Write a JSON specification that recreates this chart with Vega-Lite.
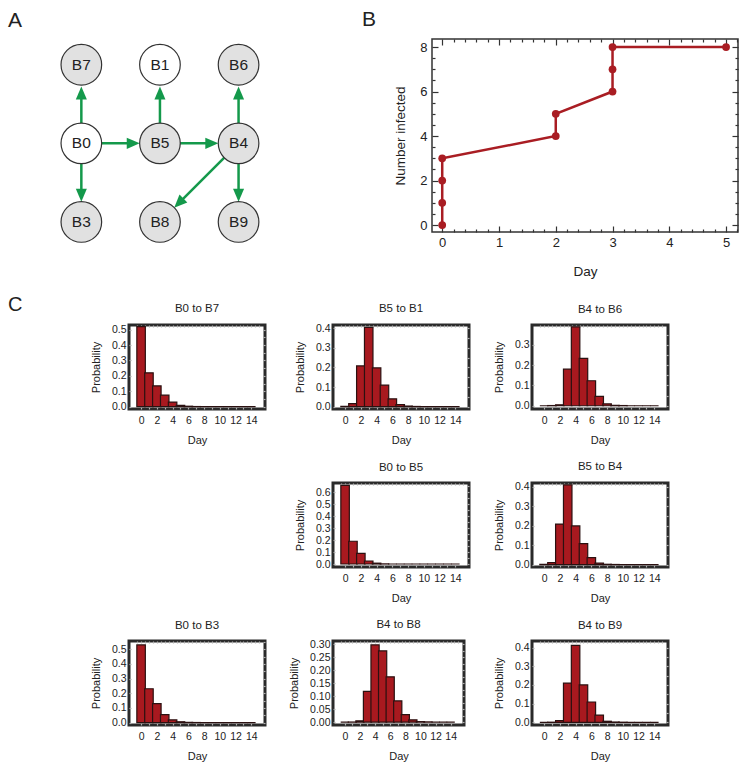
{
  "$schema": "https://vega.github.io/schema/vega-lite/v6.json",
  "padding": {"left": 8, "top": 8, "right": 5, "bottom": 3},
  "background": "white",
  "spacing": 16,
  "datasets": {
    "nodes": [
      {"id": "B7", "col": 0, "row": 0, "state": "infected"},
      {"id": "B1", "col": 1, "row": 0, "state": "uninfected"},
      {"id": "B6", "col": 2, "row": 0, "state": "infected"},
      {"id": "B0", "col": 0, "row": 1, "state": "uninfected"},
      {"id": "B5", "col": 1, "row": 1, "state": "infected"},
      {"id": "B4", "col": 2, "row": 1, "state": "infected"},
      {"id": "B3", "col": 0, "row": 2, "state": "infected"},
      {"id": "B8", "col": 1, "row": 2, "state": "infected"},
      {"id": "B9", "col": 2, "row": 2, "state": "infected"}
    ],
    "edges": [
      {"from": "B0", "to": "B7", "x1": 0, "y1": 1, "hx": 0, "hy": 0.36, "heading": 0},
      {"from": "B5", "to": "B1", "x1": 1, "y1": 1, "hx": 1, "hy": 0.36, "heading": 0},
      {"from": "B4", "to": "B6", "x1": 2, "y1": 1, "hx": 2, "hy": 0.36, "heading": 0},
      {"from": "B0", "to": "B3", "x1": 0, "y1": 1, "hx": 0, "hy": 1.66, "heading": 180},
      {"from": "B4", "to": "B9", "x1": 2, "y1": 1, "hx": 2, "hy": 1.66, "heading": 180},
      {"from": "B0", "to": "B5", "x1": 0, "y1": 1, "hx": 0.66, "hy": 1, "heading": 90},
      {"from": "B5", "to": "B4", "x1": 1, "y1": 1, "hx": 1.66, "hy": 1, "heading": 90},
      {"from": "B4", "to": "B8", "x1": 2, "y1": 1, "hx": 1.24, "hy": 1.76, "heading": 225}
    ],
    "infected": [
      {"day": 0, "infected": 0}, {"day": 0, "infected": 1}, {"day": 0, "infected": 2}, {"day": 0, "infected": 3},
      {"day": 2, "infected": 4}, {"day": 2, "infected": 5}, {"day": 3, "infected": 6}, {"day": 3, "infected": 7},
      {"day": 3, "infected": 8}, {"day": 5, "infected": 8}
    ],
    "hist": [
      {"pair": "B0 to B7", "day": 0, "p": 0.52}, {"pair": "B0 to B7", "day": 1, "p": 0.22}, {"pair": "B0 to B7", "day": 2, "p": 0.135}, {"pair": "B0 to B7", "day": 3, "p": 0.075}, {"pair": "B0 to B7", "day": 4, "p": 0.03}, {"pair": "B0 to B7", "day": 5, "p": 0.008}, {"pair": "B0 to B7", "day": 6, "p": 0.003}, {"pair": "B0 to B7", "day": 7, "p": 0.001}, {"pair": "B0 to B7", "day": 8, "p": 0}, {"pair": "B0 to B7", "day": 9, "p": 0}, {"pair": "B0 to B7", "day": 10, "p": 0}, {"pair": "B0 to B7", "day": 11, "p": 0}, {"pair": "B0 to B7", "day": 12, "p": 0}, {"pair": "B0 to B7", "day": 13, "p": 0}, {"pair": "B0 to B7", "day": 14, "p": 0},
      {"pair": "B5 to B1", "day": 0, "p": 0.001}, {"pair": "B5 to B1", "day": 1, "p": 0.015}, {"pair": "B5 to B1", "day": 2, "p": 0.208}, {"pair": "B5 to B1", "day": 3, "p": 0.405}, {"pair": "B5 to B1", "day": 4, "p": 0.198}, {"pair": "B5 to B1", "day": 5, "p": 0.11}, {"pair": "B5 to B1", "day": 6, "p": 0.04}, {"pair": "B5 to B1", "day": 7, "p": 0.01}, {"pair": "B5 to B1", "day": 8, "p": 0.003}, {"pair": "B5 to B1", "day": 9, "p": 0.001}, {"pair": "B5 to B1", "day": 10, "p": 0}, {"pair": "B5 to B1", "day": 11, "p": 0}, {"pair": "B5 to B1", "day": 12, "p": 0}, {"pair": "B5 to B1", "day": 13, "p": 0}, {"pair": "B5 to B1", "day": 14, "p": 0},
      {"pair": "B4 to B6", "day": 0, "p": 0}, {"pair": "B4 to B6", "day": 1, "p": 0.001}, {"pair": "B4 to B6", "day": 2, "p": 0.005}, {"pair": "B4 to B6", "day": 3, "p": 0.18}, {"pair": "B4 to B6", "day": 4, "p": 0.388}, {"pair": "B4 to B6", "day": 5, "p": 0.233}, {"pair": "B4 to B6", "day": 6, "p": 0.123}, {"pair": "B4 to B6", "day": 7, "p": 0.046}, {"pair": "B4 to B6", "day": 8, "p": 0.009}, {"pair": "B4 to B6", "day": 9, "p": 0.002}, {"pair": "B4 to B6", "day": 10, "p": 0.001}, {"pair": "B4 to B6", "day": 11, "p": 0}, {"pair": "B4 to B6", "day": 12, "p": 0}, {"pair": "B4 to B6", "day": 13, "p": 0}, {"pair": "B4 to B6", "day": 14, "p": 0},
      {"pair": "B0 to B5", "day": 0, "p": 0.656}, {"pair": "B0 to B5", "day": 1, "p": 0.19}, {"pair": "B0 to B5", "day": 2, "p": 0.089}, {"pair": "B0 to B5", "day": 3, "p": 0.025}, {"pair": "B0 to B5", "day": 4, "p": 0.007}, {"pair": "B0 to B5", "day": 5, "p": 0.001}, {"pair": "B0 to B5", "day": 6, "p": 0}, {"pair": "B0 to B5", "day": 7, "p": 0}, {"pair": "B0 to B5", "day": 8, "p": 0}, {"pair": "B0 to B5", "day": 9, "p": 0}, {"pair": "B0 to B5", "day": 10, "p": 0}, {"pair": "B0 to B5", "day": 11, "p": 0}, {"pair": "B0 to B5", "day": 12, "p": 0}, {"pair": "B0 to B5", "day": 13, "p": 0}, {"pair": "B0 to B5", "day": 14, "p": 0},
      {"pair": "B5 to B4", "day": 0, "p": 0.001}, {"pair": "B5 to B4", "day": 1, "p": 0.01}, {"pair": "B5 to B4", "day": 2, "p": 0.209}, {"pair": "B5 to B4", "day": 3, "p": 0.41}, {"pair": "B5 to B4", "day": 4, "p": 0.199}, {"pair": "B5 to B4", "day": 5, "p": 0.108}, {"pair": "B5 to B4", "day": 6, "p": 0.036}, {"pair": "B5 to B4", "day": 7, "p": 0.008}, {"pair": "B5 to B4", "day": 8, "p": 0.002}, {"pair": "B5 to B4", "day": 9, "p": 0.001}, {"pair": "B5 to B4", "day": 10, "p": 0}, {"pair": "B5 to B4", "day": 11, "p": 0}, {"pair": "B5 to B4", "day": 12, "p": 0}, {"pair": "B5 to B4", "day": 13, "p": 0}, {"pair": "B5 to B4", "day": 14, "p": 0},
      {"pair": "B0 to B3", "day": 0, "p": 0.529}, {"pair": "B0 to B3", "day": 1, "p": 0.231}, {"pair": "B0 to B3", "day": 2, "p": 0.13}, {"pair": "B0 to B3", "day": 3, "p": 0.054}, {"pair": "B0 to B3", "day": 4, "p": 0.019}, {"pair": "B0 to B3", "day": 5, "p": 0.006}, {"pair": "B0 to B3", "day": 6, "p": 0.002}, {"pair": "B0 to B3", "day": 7, "p": 0.001}, {"pair": "B0 to B3", "day": 8, "p": 0}, {"pair": "B0 to B3", "day": 9, "p": 0}, {"pair": "B0 to B3", "day": 10, "p": 0}, {"pair": "B0 to B3", "day": 11, "p": 0}, {"pair": "B0 to B3", "day": 12, "p": 0}, {"pair": "B0 to B3", "day": 13, "p": 0}, {"pair": "B0 to B3", "day": 14, "p": 0},
      {"pair": "B4 to B8", "day": 0, "p": 0}, {"pair": "B4 to B8", "day": 1, "p": 0.0005}, {"pair": "B4 to B8", "day": 2, "p": 0.005}, {"pair": "B4 to B8", "day": 3, "p": 0.119}, {"pair": "B4 to B8", "day": 4, "p": 0.298}, {"pair": "B4 to B8", "day": 5, "p": 0.275}, {"pair": "B4 to B8", "day": 6, "p": 0.175}, {"pair": "B4 to B8", "day": 7, "p": 0.082}, {"pair": "B4 to B8", "day": 8, "p": 0.029}, {"pair": "B4 to B8", "day": 9, "p": 0.009}, {"pair": "B4 to B8", "day": 10, "p": 0.002}, {"pair": "B4 to B8", "day": 11, "p": 0.001}, {"pair": "B4 to B8", "day": 12, "p": 0}, {"pair": "B4 to B8", "day": 13, "p": 0}, {"pair": "B4 to B8", "day": 14, "p": 0},
      {"pair": "B4 to B9", "day": 0, "p": 0}, {"pair": "B4 to B9", "day": 1, "p": 0.001}, {"pair": "B4 to B9", "day": 2, "p": 0.009}, {"pair": "B4 to B9", "day": 3, "p": 0.21}, {"pair": "B4 to B9", "day": 4, "p": 0.412}, {"pair": "B4 to B9", "day": 5, "p": 0.2}, {"pair": "B4 to B9", "day": 6, "p": 0.109}, {"pair": "B4 to B9", "day": 7, "p": 0.039}, {"pair": "B4 to B9", "day": 8, "p": 0.006}, {"pair": "B4 to B9", "day": 9, "p": 0.002}, {"pair": "B4 to B9", "day": 10, "p": 0.001}, {"pair": "B4 to B9", "day": 11, "p": 0}, {"pair": "B4 to B9", "day": 12, "p": 0}, {"pair": "B4 to B9", "day": 13, "p": 0}, {"pair": "B4 to B9", "day": 14, "p": 0}
    ]
  },
  "vconcat": [
    {
      "spacing": 23,
      "hconcat": [
        {
          "width": 330, "height": 200,
          "title": {"text": "A", "anchor": "start", "frame": "group", "fontSize": 21, "offset": 8},
          "layer": [
            {
              "data": {"name": "edges"},
              "mark": {"type": "rule", "color": "#14994b", "strokeWidth": 2.5},
              "encoding": {
                "x": {"field": "x1", "type": "quantitative", "scale": {"domain": [-0.933, 3.265], "nice": false, "zero": false}, "axis": null},
                "y": {"field": "y1", "type": "quantitative", "scale": {"domain": [-0.328, 2.217], "nice": false, "zero": false, "reverse": true}, "axis": null},
                "x2": {"field": "hx"},
                "y2": {"field": "hy"}
              }
            },
            {
              "data": {"name": "edges"},
              "mark": {"type": "point", "shape": "M0,-1L-0.85,1L0.85,1Z", "filled": true, "color": "#14994b", "size": 169, "opacity": 1},
              "encoding": {
                "x": {"field": "hx", "type": "quantitative", "scale": {"domain": [-0.933, 3.265], "nice": false, "zero": false}, "axis": null},
                "y": {"field": "hy", "type": "quantitative", "scale": {"domain": [-0.328, 2.217], "nice": false, "zero": false, "reverse": true}, "axis": null},
                "angle": {"field": "heading", "type": "quantitative", "scale": {"domain": [0, 360], "range": [0, 360]}, "legend": null}
              }
            },
            {
              "data": {"name": "nodes"},
              "mark": {"type": "point", "shape": "circle", "size": 1650, "filled": true, "stroke": "#333333", "strokeWidth": 1.2, "opacity": 1},
              "encoding": {
                "x": {"field": "col", "type": "quantitative", "scale": {"domain": [-0.933, 3.265], "nice": false, "zero": false}, "axis": null},
                "y": {"field": "row", "type": "quantitative", "scale": {"domain": [-0.328, 2.217], "nice": false, "zero": false, "reverse": true}, "axis": null},
                "fill": {"field": "state", "type": "nominal", "scale": {"domain": ["infected", "uninfected"], "range": ["#e1e1e1", "#ffffff"]}, "legend": null}
              }
            },
            {
              "data": {"name": "nodes"},
              "mark": {"type": "text", "fontSize": 15.5, "font": "Liberation Sans", "color": "#222222", "align": "center", "baseline": "middle"},
              "encoding": {
                "x": {"field": "col", "type": "quantitative", "scale": {"domain": [-0.933, 3.265], "nice": false, "zero": false}, "axis": null},
                "y": {"field": "row", "type": "quantitative", "scale": {"domain": [-0.328, 2.217], "nice": false, "zero": false, "reverse": true}, "axis": null},
                "text": {"field": "id"}
              }
            }
          ]
        },
        {
          "width": 306, "height": 193,
          "title": {"text": "B", "anchor": "start", "frame": "group", "dx": -70, "fontSize": 21, "offset": 8},
          "view": {"stroke": "#333333", "strokeWidth": 1.5},
          "data": {"name": "infected"},
          "layer": [
            {
              "mark": {"type": "line", "color": "#a91d23", "strokeWidth": 2.5},
              "encoding": {
                "x": {"field": "day", "type": "quantitative", "scale": {"domain": [-0.18, 5.21], "nice": false, "zero": false},
                  "axis": {"title": "Day", "values": [0, 0.2, 0.4, 0.6, 0.8, 1, 1.2, 1.4, 1.6, 1.8, 2, 2.2, 2.4, 2.6, 2.8, 3, 3.2, 3.4, 3.6, 3.8, 4, 4.2, 4.4, 4.6, 4.8, 5, 5.2],
                    "labelExpr": "round(datum.value) === datum.value ? datum.value + '' : ''",
                    "tickSize": {"condition": {"test": "round(datum.value) === datum.value", "value": -6}, "value": -3},
                    "tickColor": "#333333",
                    "labelPadding": 10, "labelFontSize": 13, "titleFontSize": 13.5, "titlePadding": 12}},
                "y": {"field": "infected", "type": "quantitative", "scale": {"domain": [-0.31, 8.36], "nice": false, "zero": false},
                  "axis": {"title": "Number infected", "values": [0, 0.5, 1, 1.5, 2, 2.5, 3, 3.5, 4, 4.5, 5, 5.5, 6, 6.5, 7, 7.5, 8],
                    "labelExpr": "datum.value % 2 === 0 ? datum.value + '' : ''",
                    "tickSize": {"condition": {"test": "datum.value % 2 === 0", "value": -6}, "value": -3},
                    "tickColor": "#333333",
                    "labelPadding": 11, "labelFontSize": 13, "titleFontSize": 13.5, "titlePadding": 12}},
                "order": [{"field": "infected", "type": "quantitative"}, {"field": "day", "type": "quantitative"}]
              }
            },
            {
              "mark": {"type": "point", "filled": true, "size": 60, "color": "#a91d23", "opacity": 1},
              "encoding": {
                "x": {"field": "day", "type": "quantitative", "scale": {"domain": [-0.18, 5.21], "nice": false, "zero": false},
                  "axis": {"orient": "top", "title": null, "labels": false, "tickColor": "#333333", "values": [0, 0.2, 0.4, 0.6, 0.8, 1, 1.2, 1.4, 1.6, 1.8, 2, 2.2, 2.4, 2.6, 2.8, 3, 3.2, 3.4, 3.6, 3.8, 4, 4.2, 4.4, 4.6, 4.8, 5, 5.2],
                    "tickSize": {"condition": {"test": "round(datum.value) === datum.value", "value": -6}, "value": -3}}},
                "y": {"field": "infected", "type": "quantitative", "scale": {"domain": [-0.31, 8.36], "nice": false, "zero": false},
                  "axis": {"orient": "right", "title": null, "labels": false, "tickColor": "#333333", "values": [0, 0.5, 1, 1.5, 2, 2.5, 3, 3.5, 4, 4.5, 5, 5.5, 6, 6.5, 7, 7.5, 8],
                    "tickSize": {"condition": {"test": "datum.value % 2 === 0", "value": -6}, "value": -3}}}
              }
            }
          ],
          "resolve": {"axis": {"x": "independent", "y": "independent"}}
        }
      ]
    },
    {
      "title": {"text": "C", "anchor": "start", "frame": "bounds", "fontSize": 20, "offset": -14},
      "columns": 4,
      "align": "each",
      "spacing": {"row": 12, "column": 19},
      "concat": [
        {"width": 61, "height": 84, "data": {"values": [{}]}, "mark": {"type": "point", "opacity": 0}, "encoding": {}},
        {
          "width": 136, "height": 84, "title": "B0 to B7",
          "view": {"stroke": "#2a2a2a", "strokeWidth": 3},
          "data": {"name": "hist"},
          "transform": [{"filter": "datum.pair === 'B0 to B7'"}],
          "layer": [
            {"mark": {"type": "bar", "width": 8.5, "fill": "#a8191f", "stroke": "#2b1111", "strokeWidth": 1.2},
             "encoding": {
               "x": {"field": "day", "type": "quantitative", "scale": {"domain": [-0.9, 15.1], "nice": false, "zero": false}, "axis": {"title": "Day", "values": [0, 1, 2, 3, 4, 5, 6, 7, 8, 9, 10, 11, 12, 13, 14], "labelExpr": "datum.value % 2 === 0 ? datum.value + '' : ''"}},
               "y": {"field": "p", "type": "quantitative", "scale": {"domain": [-0.015, 0.53], "nice": false}, "axis": {"title": "Probability", "values": [0, 0.1, 0.2, 0.3, 0.4, 0.5], "format": ".1f"}}}},
            {"mark": {"type": "point", "opacity": 0},
             "encoding": {
               "x": {"field": "day", "type": "quantitative", "scale": {"domain": [-0.9, 15.1], "nice": false, "zero": false}, "axis": {"orient": "top", "title": null, "labels": false, "values": [-0.5, 0, 0.5, 1, 1.5, 2, 2.5, 3, 3.5, 4, 4.5, 5, 5.5, 6, 6.5, 7, 7.5, 8, 8.5, 9, 9.5, 10, 10.5, 11, 11.5, 12, 12.5, 13, 13.5, 14, 14.5, 15]}},
               "y": {"field": "p", "type": "quantitative", "scale": {"domain": [-0.015, 0.53], "nice": false}, "axis": {"orient": "right", "title": null, "labels": false, "values": [0, 0.05, 0.1, 0.15, 0.2, 0.25, 0.3, 0.35, 0.4, 0.45, 0.5]}}}}
          ],
          "resolve": {"axis": {"x": "independent", "y": "independent"}}
        },
        {
          "width": 136, "height": 84, "title": "B5 to B1",
          "view": {"stroke": "#2a2a2a", "strokeWidth": 3},
          "data": {"name": "hist"},
          "transform": [{"filter": "datum.pair === 'B5 to B1'"}],
          "layer": [
            {"mark": {"type": "bar", "width": 8.5, "fill": "#a8191f", "stroke": "#2b1111", "strokeWidth": 1.2},
             "encoding": {
               "x": {"field": "day", "type": "quantitative", "scale": {"domain": [-0.9, 15.1], "nice": false, "zero": false}, "axis": {"title": "Day", "values": [0, 1, 2, 3, 4, 5, 6, 7, 8, 9, 10, 11, 12, 13, 14], "labelExpr": "datum.value % 2 === 0 ? datum.value + '' : ''"}},
               "y": {"field": "p", "type": "quantitative", "scale": {"domain": [-0.012, 0.417], "nice": false}, "axis": {"title": "Probability", "values": [0, 0.1, 0.2, 0.3, 0.4], "format": ".1f"}}}},
            {"mark": {"type": "point", "opacity": 0},
             "encoding": {
               "x": {"field": "day", "type": "quantitative", "scale": {"domain": [-0.9, 15.1], "nice": false, "zero": false}, "axis": {"orient": "top", "title": null, "labels": false, "values": [-0.5, 0, 0.5, 1, 1.5, 2, 2.5, 3, 3.5, 4, 4.5, 5, 5.5, 6, 6.5, 7, 7.5, 8, 8.5, 9, 9.5, 10, 10.5, 11, 11.5, 12, 12.5, 13, 13.5, 14, 14.5, 15]}},
               "y": {"field": "p", "type": "quantitative", "scale": {"domain": [-0.012, 0.417], "nice": false}, "axis": {"orient": "right", "title": null, "labels": false, "values": [0, 0.05, 0.1, 0.15, 0.2, 0.25, 0.3, 0.35, 0.4]}}}}
          ],
          "resolve": {"axis": {"x": "independent", "y": "independent"}}
        },
        {
          "width": 136, "height": 84, "title": "B4 to B6",
          "view": {"stroke": "#2a2a2a", "strokeWidth": 3},
          "data": {"name": "hist"},
          "transform": [{"filter": "datum.pair === 'B4 to B6'"}],
          "layer": [
            {"mark": {"type": "bar", "width": 8.5, "fill": "#a8191f", "stroke": "#2b1111", "strokeWidth": 1.2},
             "encoding": {
               "x": {"field": "day", "type": "quantitative", "scale": {"domain": [-0.9, 15.1], "nice": false, "zero": false}, "axis": {"title": "Day", "values": [0, 1, 2, 3, 4, 5, 6, 7, 8, 9, 10, 11, 12, 13, 14], "labelExpr": "datum.value % 2 === 0 ? datum.value + '' : ''"}},
               "y": {"field": "p", "type": "quantitative", "scale": {"domain": [-0.016, 0.397], "nice": false}, "axis": {"title": "Probability", "values": [0, 0.1, 0.2, 0.3], "format": ".1f"}}}},
            {"mark": {"type": "point", "opacity": 0},
             "encoding": {
               "x": {"field": "day", "type": "quantitative", "scale": {"domain": [-0.9, 15.1], "nice": false, "zero": false}, "axis": {"orient": "top", "title": null, "labels": false, "values": [-0.5, 0, 0.5, 1, 1.5, 2, 2.5, 3, 3.5, 4, 4.5, 5, 5.5, 6, 6.5, 7, 7.5, 8, 8.5, 9, 9.5, 10, 10.5, 11, 11.5, 12, 12.5, 13, 13.5, 14, 14.5, 15]}},
               "y": {"field": "p", "type": "quantitative", "scale": {"domain": [-0.016, 0.397], "nice": false}, "axis": {"orient": "right", "title": null, "labels": false, "values": [0, 0.05, 0.1, 0.15, 0.2, 0.25, 0.3, 0.35]}}}}
          ],
          "resolve": {"axis": {"x": "independent", "y": "independent"}}
        },
        {"width": 61, "height": 84, "data": {"values": [{}]}, "mark": {"type": "point", "opacity": 0}, "encoding": {}},
        {"width": 100, "height": 84, "data": {"values": [{}]}, "mark": {"type": "point", "opacity": 0}, "encoding": {}},
        {
          "width": 136, "height": 84, "title": "B0 to B5",
          "view": {"stroke": "#2a2a2a", "strokeWidth": 3},
          "data": {"name": "hist"},
          "transform": [{"filter": "datum.pair === 'B0 to B5'"}],
          "layer": [
            {"mark": {"type": "bar", "width": 8.5, "fill": "#a8191f", "stroke": "#2b1111", "strokeWidth": 1.2},
             "encoding": {
               "x": {"field": "day", "type": "quantitative", "scale": {"domain": [-0.9, 15.1], "nice": false, "zero": false}, "axis": {"title": "Day", "values": [0, 1, 2, 3, 4, 5, 6, 7, 8, 9, 10, 11, 12, 13, 14], "labelExpr": "datum.value % 2 === 0 ? datum.value + '' : ''"}},
               "y": {"field": "p", "type": "quantitative", "scale": {"domain": [-0.025, 0.676], "nice": false}, "axis": {"title": "Probability", "values": [0, 0.1, 0.2, 0.3, 0.4, 0.5, 0.6], "format": ".1f"}}}},
            {"mark": {"type": "point", "opacity": 0},
             "encoding": {
               "x": {"field": "day", "type": "quantitative", "scale": {"domain": [-0.9, 15.1], "nice": false, "zero": false}, "axis": {"orient": "top", "title": null, "labels": false, "values": [-0.5, 0, 0.5, 1, 1.5, 2, 2.5, 3, 3.5, 4, 4.5, 5, 5.5, 6, 6.5, 7, 7.5, 8, 8.5, 9, 9.5, 10, 10.5, 11, 11.5, 12, 12.5, 13, 13.5, 14, 14.5, 15]}},
               "y": {"field": "p", "type": "quantitative", "scale": {"domain": [-0.025, 0.676], "nice": false}, "axis": {"orient": "right", "title": null, "labels": false, "values": [0, 0.05, 0.1, 0.15, 0.2, 0.25, 0.3, 0.35, 0.4, 0.45, 0.5, 0.55, 0.6, 0.65]}}}}
          ],
          "resolve": {"axis": {"x": "independent", "y": "independent"}}
        },
        {
          "width": 136, "height": 84, "title": "B5 to B4",
          "view": {"stroke": "#2a2a2a", "strokeWidth": 3},
          "data": {"name": "hist"},
          "transform": [{"filter": "datum.pair === 'B5 to B4'"}],
          "layer": [
            {"mark": {"type": "bar", "width": 8.5, "fill": "#a8191f", "stroke": "#2b1111", "strokeWidth": 1.2},
             "encoding": {
               "x": {"field": "day", "type": "quantitative", "scale": {"domain": [-0.9, 15.1], "nice": false, "zero": false}, "axis": {"title": "Day", "values": [0, 1, 2, 3, 4, 5, 6, 7, 8, 9, 10, 11, 12, 13, 14], "labelExpr": "datum.value % 2 === 0 ? datum.value + '' : ''"}},
               "y": {"field": "p", "type": "quantitative", "scale": {"domain": [-0.012, 0.42], "nice": false}, "axis": {"title": "Probability", "values": [0, 0.1, 0.2, 0.3, 0.4], "format": ".1f"}}}},
            {"mark": {"type": "point", "opacity": 0},
             "encoding": {
               "x": {"field": "day", "type": "quantitative", "scale": {"domain": [-0.9, 15.1], "nice": false, "zero": false}, "axis": {"orient": "top", "title": null, "labels": false, "values": [-0.5, 0, 0.5, 1, 1.5, 2, 2.5, 3, 3.5, 4, 4.5, 5, 5.5, 6, 6.5, 7, 7.5, 8, 8.5, 9, 9.5, 10, 10.5, 11, 11.5, 12, 12.5, 13, 13.5, 14, 14.5, 15]}},
               "y": {"field": "p", "type": "quantitative", "scale": {"domain": [-0.012, 0.42], "nice": false}, "axis": {"orient": "right", "title": null, "labels": false, "values": [0, 0.05, 0.1, 0.15, 0.2, 0.25, 0.3, 0.35, 0.4]}}}}
          ],
          "resolve": {"axis": {"x": "independent", "y": "independent"}}
        },
        {"width": 61, "height": 84, "data": {"values": [{}]}, "mark": {"type": "point", "opacity": 0}, "encoding": {}},
        {
          "width": 136, "height": 84, "title": "B0 to B3",
          "view": {"stroke": "#2a2a2a", "strokeWidth": 3},
          "data": {"name": "hist"},
          "transform": [{"filter": "datum.pair === 'B0 to B3'"}],
          "layer": [
            {"mark": {"type": "bar", "width": 8.5, "fill": "#a8191f", "stroke": "#2b1111", "strokeWidth": 1.2},
             "encoding": {
               "x": {"field": "day", "type": "quantitative", "scale": {"domain": [-0.9, 15.1], "nice": false, "zero": false}, "axis": {"title": "Day", "values": [0, 1, 2, 3, 4, 5, 6, 7, 8, 9, 10, 11, 12, 13, 14], "labelExpr": "datum.value % 2 === 0 ? datum.value + '' : ''"}},
               "y": {"field": "p", "type": "quantitative", "scale": {"domain": [-0.016, 0.556], "nice": false}, "axis": {"title": "Probability", "values": [0, 0.1, 0.2, 0.3, 0.4, 0.5], "format": ".1f"}}}},
            {"mark": {"type": "point", "opacity": 0},
             "encoding": {
               "x": {"field": "day", "type": "quantitative", "scale": {"domain": [-0.9, 15.1], "nice": false, "zero": false}, "axis": {"orient": "top", "title": null, "labels": false, "values": [-0.5, 0, 0.5, 1, 1.5, 2, 2.5, 3, 3.5, 4, 4.5, 5, 5.5, 6, 6.5, 7, 7.5, 8, 8.5, 9, 9.5, 10, 10.5, 11, 11.5, 12, 12.5, 13, 13.5, 14, 14.5, 15]}},
               "y": {"field": "p", "type": "quantitative", "scale": {"domain": [-0.016, 0.556], "nice": false}, "axis": {"orient": "right", "title": null, "labels": false, "values": [0, 0.05, 0.1, 0.15, 0.2, 0.25, 0.3, 0.35, 0.4, 0.45, 0.5, 0.55]}}}}
          ],
          "resolve": {"axis": {"x": "independent", "y": "independent"}}
        },
        {
          "width": 131, "height": 84, "title": "B4 to B8",
          "view": {"stroke": "#2a2a2a", "strokeWidth": 3},
          "data": {"name": "hist"},
          "transform": [{"filter": "datum.pair === 'B4 to B8'"}],
          "layer": [
            {"mark": {"type": "bar", "width": 8.2, "fill": "#a8191f", "stroke": "#2b1111", "strokeWidth": 1.2},
             "encoding": {
               "x": {"field": "day", "type": "quantitative", "scale": {"domain": [-0.9, 15.1], "nice": false, "zero": false}, "axis": {"title": "Day", "values": [0, 1, 2, 3, 4, 5, 6, 7, 8, 9, 10, 11, 12, 13, 14], "labelExpr": "datum.value % 2 === 0 ? datum.value + '' : ''"}},
               "y": {"field": "p", "type": "quantitative", "scale": {"domain": [-0.011, 0.313], "nice": false}, "axis": {"title": "Probability", "values": [0, 0.05, 0.1, 0.15, 0.2, 0.25, 0.3], "format": ".2f"}}}},
            {"mark": {"type": "point", "opacity": 0},
             "encoding": {
               "x": {"field": "day", "type": "quantitative", "scale": {"domain": [-0.9, 15.1], "nice": false, "zero": false}, "axis": {"orient": "top", "title": null, "labels": false, "values": [-0.5, 0, 0.5, 1, 1.5, 2, 2.5, 3, 3.5, 4, 4.5, 5, 5.5, 6, 6.5, 7, 7.5, 8, 8.5, 9, 9.5, 10, 10.5, 11, 11.5, 12, 12.5, 13, 13.5, 14, 14.5, 15]}},
               "y": {"field": "p", "type": "quantitative", "scale": {"domain": [-0.011, 0.313], "nice": false}, "axis": {"orient": "right", "title": null, "labels": false, "values": [0, 0.025, 0.05, 0.075, 0.1, 0.125, 0.15, 0.175, 0.2, 0.225, 0.25, 0.275, 0.3]}}}}
          ],
          "resolve": {"axis": {"x": "independent", "y": "independent"}}
        },
        {
          "width": 136, "height": 84, "title": "B4 to B9",
          "view": {"stroke": "#2a2a2a", "strokeWidth": 3},
          "data": {"name": "hist"},
          "transform": [{"filter": "datum.pair === 'B4 to B9'"}],
          "layer": [
            {"mark": {"type": "bar", "width": 8.5, "fill": "#a8191f", "stroke": "#2b1111", "strokeWidth": 1.2},
             "encoding": {
               "x": {"field": "day", "type": "quantitative", "scale": {"domain": [-0.9, 15.1], "nice": false, "zero": false}, "axis": {"title": "Day", "values": [0, 1, 2, 3, 4, 5, 6, 7, 8, 9, 10, 11, 12, 13, 14], "labelExpr": "datum.value % 2 === 0 ? datum.value + '' : ''"}},
               "y": {"field": "p", "type": "quantitative", "scale": {"domain": [-0.014, 0.435], "nice": false}, "axis": {"title": "Probability", "values": [0, 0.1, 0.2, 0.3, 0.4], "format": ".1f"}}}},
            {"mark": {"type": "point", "opacity": 0},
             "encoding": {
               "x": {"field": "day", "type": "quantitative", "scale": {"domain": [-0.9, 15.1], "nice": false, "zero": false}, "axis": {"orient": "top", "title": null, "labels": false, "values": [-0.5, 0, 0.5, 1, 1.5, 2, 2.5, 3, 3.5, 4, 4.5, 5, 5.5, 6, 6.5, 7, 7.5, 8, 8.5, 9, 9.5, 10, 10.5, 11, 11.5, 12, 12.5, 13, 13.5, 14, 14.5, 15]}},
               "y": {"field": "p", "type": "quantitative", "scale": {"domain": [-0.014, 0.435], "nice": false}, "axis": {"orient": "right", "title": null, "labels": false, "values": [0, 0.05, 0.1, 0.15, 0.2, 0.25, 0.3, 0.35, 0.4]}}}}
          ],
          "resolve": {"axis": {"x": "independent", "y": "independent"}}
        }
      ]
    }
  ],
  "config": {
    "font": "Liberation Sans",
    "view": {"stroke": null},
    "title": {"font": "Liberation Sans", "fontSize": 11.5, "fontWeight": "normal", "color": "#222222", "offset": 9, "anchor": "middle", "frame": "group"},
    "axis": {"domain": false, "grid": false, "tickSize": -2, "tickColor": "#b0b0b0", "tickWidth": 1.2, "labelFont": "Liberation Sans", "titleFont": "Liberation Sans", "labelFontSize": 10.5, "titleFontSize": 11, "labelColor": "#222222", "titleColor": "#222222", "titleFontWeight": "normal", "labelOverlap": false, "labelFlush": false, "labelBound": false},
    "axisBottom": {"labelPadding": 8, "titlePadding": 9},
    "axisLeft": {"labelPadding": 5, "titlePadding": 10}
  }
}
